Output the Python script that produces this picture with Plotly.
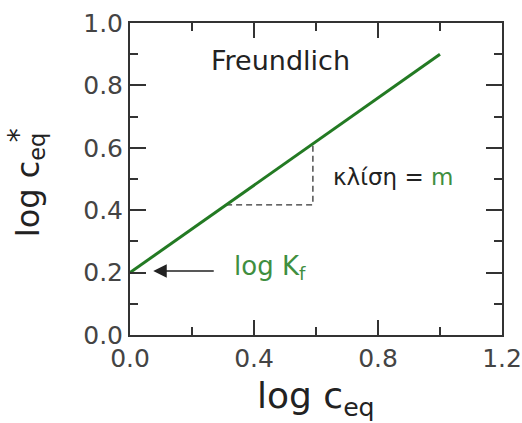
import plotly.graph_objects as go

# data
line_x = [0.0, 1.0]
line_y = [0.2, 0.9]
slope_x = [0.31, 0.59, 0.59]
slope_y = [0.417, 0.417, 0.613]
x_ticks = [0.0, 0.4, 0.8, 1.2]
x_ticklabels = ["0.0", "0.4", "0.8", "1.2"]
y_ticks = [0.0, 0.2, 0.4, 0.6, 0.8, 1.0]
y_ticklabels = ["0.0", "0.2", "0.4", "0.6", "0.8", "1.0"]

GREEN_LINE = "#237a23"
GREEN_TEXT = "#3f8f3f"
FONT = "DejaVu Sans"

fig = go.Figure()
fig.add_trace(go.Scatter(x=slope_x, y=slope_y, mode="lines",
                         line=dict(color="#333333", width=1.3, dash="6px,4px"),
                         hoverinfo="skip", showlegend=False))
fig.add_trace(go.Scatter(x=line_x, y=line_y, mode="lines",
                         line=dict(color=GREEN_LINE, width=3),
                         showlegend=False))

axis_common = dict(showline=True, linecolor="#333333", linewidth=2,
                   mirror="ticks", ticks="inside", tickcolor="#333333",
                   tickwidth=2, showgrid=False, zeroline=False,
                   automargin=False,
                   tickfont=dict(family=FONT, size=25, color="#444444"))

fig.update_xaxes(range=[0, 1.2], tickvals=x_ticks, ticktext=x_ticklabels,
                 ticklen=15,
                 minor=dict(dtick=0.2, tick0=0, ticklen=8, ticks="inside",
                            tickcolor="#333333", tickwidth=2, showgrid=False),
                 **axis_common)
fig.update_yaxes(range=[0, 1.0], tickvals=y_ticks, ticktext=y_ticklabels,
                 ticklen=16,
                 minor=dict(dtick=0.1, tick0=0, ticklen=8, ticks="inside",
                            tickcolor="#333333", tickwidth=2, showgrid=False),
                 **axis_common)

annotations = [
    dict(x=0.487, y=0.88, xref="x", yref="y", text="Freundlich", showarrow=False,
         font=dict(family=FONT, size=27, color="#222222")),
    dict(x=0.648, y=0.506, xref="x", yref="y", xanchor="left",
         text="κλίση = <span style='color:%s'>m</span>" % GREEN_TEXT,
         showarrow=False, font=dict(family=FONT, size=23, color="#222222")),
    dict(x=0.33, y=0.216, xref="x", yref="y", xanchor="left",
         text="log K<sub>f</sub>", showarrow=False,
         font=dict(family=FONT, size=26, color=GREEN_TEXT)),
    dict(x=0.075, y=0.205, xref="x", yref="y", ax=0.275, ay=0.205,
         axref="x", ayref="y", text="", showarrow=True, arrowhead=2,
         arrowsize=1.8, arrowwidth=1.5, arrowcolor="#222222"),
    dict(x=0.5, y=0, xref="paper", yref="paper", yanchor="top", yshift=-38,
         text="log c<sub>eq</sub>", showarrow=False,
         font=dict(family=FONT, size=36, color="#222222")),
    dict(x=0, y=0.48, xref="paper", yref="paper", xanchor="center",
         yanchor="middle", xshift=-100, textangle=-90,
         text="log c<sub>eq</sub>", showarrow=False,
         font=dict(family=FONT, size=32, color="#222222")),
    dict(x=0, y=0.64, xref="paper", yref="paper", xanchor="center",
         yanchor="middle", xshift=-112, textangle=-90,
         text="*", showarrow=False,
         font=dict(family=FONT, size=28, color="#222222")),
]

fig.update_layout(width=522, height=423,
                  margin=dict(l=130, r=20, t=23, b=88),
                  paper_bgcolor="white", plot_bgcolor="white",
                  annotations=annotations, showlegend=False)

fig.write_html("out.html")
